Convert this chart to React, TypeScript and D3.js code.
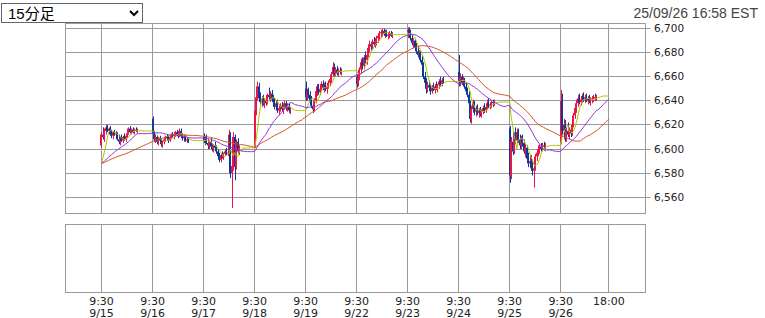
import React from 'react';
import * as d3 from 'd3';

// ---------- data ----------
const dayLabels = ['9/15', '9/16', '9/17', '9/18', '9/19', '9/22', '9/23', '9/24', '9/25', '9/26'];
const openTimeLabel = '9:30';
const endTimeLabel = '18:00';
const yTickValues = [6560, 6580, 6600, 6620, 6640, 6660, 6680, 6700];
const timestamp = '25/09/26 16:58 EST';
const periodOptions = ['15分足'];
const prevClose = 6588;
const maPeriods = [5, 25, 50];

// 15-minute bars, 9:30-16:00: [open, high, low, close]
const sep15 = [
  [6603, 6614, 6601, 6612], [6612, 6618, 6608, 6610], [6610, 6617, 6606, 6615], [6615, 6620, 6612, 6618],
  [6618, 6620, 6614, 6615], [6615, 6618, 6612, 6617], [6617, 6619, 6612, 6613], [6613, 6616, 6609, 6611],
  [6611, 6615, 6608, 6614], [6614, 6616, 6611, 6612], [6612, 6615, 6609, 6613], [6613, 6614, 6607, 6608],
  [6608, 6612, 6604, 6606], [6606, 6610, 6603, 6609], [6609, 6612, 6606, 6607], [6607, 6611, 6605, 6610],
  [6610, 6613, 6607, 6608], [6608, 6612, 6606, 6611], [6611, 6614, 6609, 6613], [6613, 6618, 6612, 6617],
  [6617, 6619, 6613, 6614], [6614, 6617, 6612, 6616], [6616, 6618, 6613, 6614], [6614, 6617, 6612, 6616],
  [6616, 6618, 6614, 6615], [6615, 6617, 6613, 6615],
];
const sep16 = [
  [6625, 6627, 6612, 6613], [6613, 6615, 6606, 6608], [6608, 6612, 6605, 6610], [6610, 6611, 6604, 6606],
  [6606, 6610, 6603, 6609], [6609, 6611, 6605, 6607], [6607, 6609, 6602, 6604], [6604, 6607, 6601, 6606],
  [6606, 6609, 6604, 6608], [6608, 6611, 6606, 6610], [6610, 6612, 6607, 6609], [6609, 6611, 6605, 6607],
  [6607, 6611, 6606, 6610], [6610, 6613, 6608, 6612], [6612, 6614, 6609, 6611], [6611, 6613, 6608, 6612],
  [6612, 6615, 6610, 6614], [6614, 6616, 6611, 6612], [6612, 6614, 6609, 6611], [6611, 6617, 6610, 6615],
  [6615, 6617, 6610, 6611], [6611, 6613, 6607, 6609], [6609, 6612, 6606, 6610], [6610, 6612, 6606, 6607],
  [6607, 6610, 6605, 6608], [6608, 6610, 6605, 6607],
];
const sep17 = [
  [6610, 6613, 6605, 6607], [6607, 6611, 6603, 6609], [6609, 6612, 6604, 6605], [6605, 6608, 6600, 6603],
  [6603, 6607, 6600, 6606], [6606, 6609, 6601, 6602], [6602, 6605, 6598, 6600], [6600, 6604, 6597, 6603],
  [6603, 6606, 6599, 6601], [6601, 6603, 6596, 6598], [6598, 6600, 6592, 6594], [6594, 6597, 6589, 6591],
  [6591, 6596, 6589, 6595], [6595, 6598, 6592, 6593], [6593, 6597, 6591, 6596], [6596, 6600, 6594, 6598],
  [6598, 6601, 6595, 6597], [6597, 6600, 6594, 6597], [6597, 6616, 6594, 6612], [6612, 6614, 6576, 6580],
  [6580, 6590, 6551, 6586], [6586, 6614, 6582, 6610], [6610, 6612, 6574, 6585], [6585, 6608, 6583, 6606],
  [6606, 6609, 6596, 6598], [6598, 6603, 6595, 6601],
];
const sep18 = [
  [6603, 6634, 6601, 6632], [6632, 6645, 6628, 6643], [6643, 6656, 6640, 6652], [6652, 6655, 6640, 6642],
  [6642, 6647, 6637, 6639], [6639, 6644, 6635, 6641], [6641, 6645, 6636, 6637], [6637, 6642, 6634, 6640],
  [6640, 6644, 6636, 6638], [6638, 6646, 6637, 6645], [6645, 6651, 6641, 6643], [6643, 6648, 6639, 6646],
  [6646, 6649, 6640, 6641], [6641, 6645, 6637, 6639], [6639, 6642, 6633, 6635], [6635, 6640, 6632, 6638],
  [6638, 6641, 6630, 6632], [6632, 6637, 6628, 6634], [6634, 6638, 6631, 6636], [6636, 6639, 6631, 6633],
  [6633, 6637, 6629, 6635], [6635, 6640, 6633, 6638], [6638, 6640, 6632, 6634], [6634, 6638, 6631, 6636],
  [6636, 6638, 6630, 6632], [6632, 6635, 6629, 6632],
];
const sep19 = [
  [6650, 6656, 6640, 6643], [6643, 6650, 6640, 6648], [6648, 6651, 6642, 6645], [6645, 6648, 6637, 6640],
  [6640, 6644, 6634, 6636], [6636, 6640, 6630, 6633], [6633, 6642, 6631, 6640], [6640, 6650, 6638, 6648],
  [6648, 6654, 6644, 6652], [6652, 6654, 6645, 6647], [6647, 6652, 6645, 6650], [6650, 6656, 6648, 6654],
  [6654, 6657, 6649, 6651], [6651, 6655, 6647, 6653], [6653, 6656, 6648, 6650], [6650, 6654, 6646, 6652],
  [6652, 6657, 6650, 6655], [6655, 6660, 6652, 6658], [6658, 6664, 6655, 6662], [6662, 6672, 6660, 6668],
  [6668, 6671, 6660, 6663], [6663, 6668, 6660, 6666], [6666, 6669, 6661, 6663], [6663, 6667, 6660, 6665],
  [6665, 6668, 6662, 6664], [6664, 6667, 6661, 6665],
];
const sep22 = [
  [6660, 6662, 6651, 6654], [6654, 6662, 6652, 6660], [6660, 6668, 6657, 6666], [6666, 6675, 6663, 6672],
  [6672, 6676, 6666, 6669], [6669, 6678, 6667, 6676], [6676, 6681, 6671, 6674], [6674, 6680, 6670, 6678],
  [6678, 6686, 6676, 6684], [6684, 6690, 6680, 6687], [6687, 6689, 6682, 6685], [6685, 6691, 6683, 6689],
  [6689, 6693, 6685, 6687], [6687, 6692, 6684, 6690], [6690, 6694, 6686, 6692], [6692, 6696, 6688, 6694],
  [6694, 6698, 6690, 6696], [6696, 6699, 6692, 6697], [6697, 6700, 6693, 6698], [6698, 6700, 6694, 6696],
  [6696, 6699, 6692, 6697], [6697, 6699, 6693, 6694], [6694, 6697, 6691, 6695], [6695, 6698, 6692, 6696],
  [6696, 6698, 6693, 6694], [6694, 6697, 6692, 6695],
];
const sep23 = [
  [6697, 6701, 6692, 6699], [6699, 6701, 6694, 6696], [6696, 6699, 6690, 6692], [6692, 6695, 6686, 6688],
  [6688, 6692, 6684, 6690], [6690, 6691, 6682, 6684], [6684, 6688, 6679, 6681], [6681, 6685, 6676, 6678],
  [6678, 6682, 6674, 6680], [6680, 6681, 6672, 6674], [6674, 6677, 6668, 6670], [6670, 6672, 6658, 6660],
  [6660, 6664, 6652, 6655], [6655, 6659, 6646, 6650], [6650, 6656, 6647, 6653], [6653, 6657, 6648, 6651],
  [6651, 6654, 6645, 6648], [6648, 6653, 6646, 6651], [6651, 6655, 6648, 6649], [6649, 6654, 6646, 6652],
  [6652, 6656, 6649, 6650], [6650, 6654, 6647, 6653], [6653, 6658, 6650, 6656], [6656, 6660, 6652, 6654],
  [6654, 6659, 6652, 6657], [6657, 6660, 6654, 6656],
];
const sep24 = [
  [6664, 6678, 6652, 6657], [6657, 6663, 6652, 6660], [6660, 6662, 6653, 6655], [6655, 6660, 6652, 6657],
  [6657, 6659, 6650, 6652], [6652, 6655, 6646, 6648], [6648, 6651, 6643, 6645], [6645, 6648, 6636, 6638],
  [6638, 6640, 6622, 6625], [6625, 6636, 6621, 6633], [6633, 6641, 6630, 6638], [6638, 6640, 6628, 6631],
  [6631, 6636, 6627, 6634], [6634, 6637, 6628, 6630], [6630, 6634, 6626, 6632], [6632, 6635, 6627, 6629],
  [6629, 6633, 6626, 6631], [6631, 6636, 6629, 6634], [6634, 6638, 6630, 6632], [6632, 6637, 6630, 6635],
  [6635, 6641, 6633, 6638], [6638, 6642, 6634, 6636], [6636, 6639, 6633, 6637], [6637, 6640, 6634, 6639],
  [6639, 6641, 6635, 6638], [6638, 6641, 6636, 6639],
];
const sep25 = [
  [6617, 6619, 6572, 6578], [6578, 6610, 6575, 6606], [6606, 6615, 6595, 6598], [6598, 6614, 6596, 6612],
  [6612, 6618, 6604, 6607], [6607, 6617, 6604, 6614], [6614, 6617, 6605, 6608], [6608, 6612, 6600, 6603],
  [6603, 6611, 6600, 6609], [6609, 6612, 6602, 6605], [6605, 6608, 6596, 6598], [6598, 6604, 6593, 6601],
  [6601, 6603, 6590, 6592], [6592, 6597, 6585, 6588], [6588, 6594, 6584, 6590], [6590, 6595, 6582, 6585],
  [6585, 6590, 6578, 6582], [6582, 6586, 6568, 6584], [6584, 6596, 6582, 6594], [6594, 6600, 6590, 6597],
  [6597, 6603, 6594, 6599], [6599, 6604, 6596, 6602], [6602, 6605, 6598, 6600], [6600, 6605, 6598, 6603],
  [6603, 6606, 6600, 6602], [6602, 6605, 6600, 6603],
];
const sep26 = [
  [6606, 6649, 6604, 6640], [6640, 6646, 6612, 6615], [6615, 6625, 6608, 6620], [6620, 6624, 6606, 6610],
  [6610, 6618, 6606, 6615], [6615, 6622, 6610, 6612], [6612, 6618, 6608, 6616], [6616, 6620, 6610, 6613],
  [6613, 6622, 6611, 6620], [6620, 6630, 6618, 6628], [6628, 6636, 6625, 6634], [6634, 6641, 6630, 6638],
  [6638, 6645, 6635, 6642], [6642, 6646, 6637, 6639], [6639, 6643, 6636, 6641], [6641, 6646, 6638, 6644],
  [6644, 6647, 6639, 6641], [6641, 6645, 6638, 6643], [6643, 6646, 6639, 6640], [6640, 6644, 6637, 6642],
  [6642, 6645, 6638, 6640], [6640, 6643, 6636, 6641], [6641, 6644, 6638, 6642], [6642, 6645, 6639, 6643],
  [6643, 6646, 6640, 6642], [6642, 6645, 6640, 6644],
];
const days = [sep15, sep16, sep17, sep18, sep19, sep22, sep23, sep24, sep25, sep26];

// ---------- layout ----------
const W = 765, H = 318;
const PL = 65, PR = 644.5, MT = 23, MB = 213, ST = 224, SB = 292;
const SLOTS_PER_DAY = 36; // 9:30 .. next 9:30, 15-minute slots
const END_SLOT = 9 * SLOTS_PER_DAY + 34; // 18:00 on last day

const RED = '#ec1448';
const BLUE = '#0b3a9c';
const MA_COLORS = ['#a9c700', '#9030d8', '#d4521e'];
const GRID = '#9a9a9a';

export default function App() {
  const x = d3.scaleLinear().domain([-25.75, 383.1]).range([PL, PR]);
  const y = d3.scaleLinear().domain([6546.9, 6704.6]).range([MB, MT]);

  // bars placed on slots, with flat after-hours slots for the moving averages
  const bars: { slot: number; o: number; h: number; l: number; c: number }[] = [];
  const slotCloses: number[] = [];
  days.forEach((day, d) => {
    day.forEach((b, i) => {
      bars.push({ slot: d * SLOTS_PER_DAY + i, o: b[0], h: b[1], l: b[2], c: b[3] });
      slotCloses.push(b[3]);
    });
    const last = day[day.length - 1][3];
    const extra = d < days.length - 1 ? SLOTS_PER_DAY - day.length : END_SLOT - (d * SLOTS_PER_DAY + day.length);
    for (let k = 0; k < extra; k++) slotCloses.push(last);
  });

  const maSeries = maPeriods.map((n) => {
    const pts: [number, number][] = [[0, prevClose]];
    for (let s = 0; s < slotCloses.length; s++) {
      let sum = 0;
      for (let k = s - n + 1; k <= s; k++) sum += k < 0 ? prevClose : slotCloses[k];
      pts.push([s + 1, sum / n]);
    }
    return pts;
  });
  const line = d3.line<[number, number]>().x((p) => x(p[0])).y((p) => y(p[1]));

  const xTicks = dayLabels.map((lab, i) => ({ slot: i * SLOTS_PER_DAY, top: openTimeLabel, bottom: lab }));
  xTicks.push({ slot: END_SLOT, top: endTimeLabel, bottom: '' });

  const px = (v: number) => Math.floor(v) + 0.5;

  return (
    <div style={{ position: 'absolute', left: 0, top: 0, width: W, height: H, background: '#fff' }}>
      <svg width={W} height={H} style={{ position: 'absolute', left: 0, top: 0 }}>
        <rect x={0} y={0} width={W} height={H} fill="#fff" />
        <text x={758} y={17.5} textAnchor="end" fontFamily="'Liberation Sans', Arial, sans-serif" fontSize={14} fill="#444">
          {timestamp}
        </text>
        {/* main panel grid */}
        {yTickValues.map((v) => (
          <g key={v}>
            <line x1={PL} x2={PR + 6} y1={px(y(v))} y2={px(y(v))} stroke={GRID} strokeWidth={1} />
            <text x={654} y={px(y(v))} dy="0.36em" fontFamily="'DejaVu Sans', Verdana, sans-serif" fontSize={10.5} fill="#222">
              {d3.format(',')(v)}
            </text>
          </g>
        ))}
        {xTicks.map((t) => (
          <g key={t.slot}>
            <line x1={px(x(t.slot))} x2={px(x(t.slot))} y1={MT} y2={MB} stroke={GRID} strokeWidth={1} />
            <line x1={px(x(t.slot))} x2={px(x(t.slot))} y1={ST} y2={SB} stroke={GRID} strokeWidth={1} />
            <text x={x(t.slot)} y={305} textAnchor="middle" fontFamily="'DejaVu Sans', Verdana, sans-serif" fontSize={11} fill="#222">
              {t.top}
            </text>
            <text x={x(t.slot)} y={316.5} textAnchor="middle" fontFamily="'DejaVu Sans', Verdana, sans-serif" fontSize={11} fill="#222">
              {t.bottom}
            </text>
          </g>
        ))}
        <rect x={px(PL)} y={px(MT)} width={Math.round(PR - PL)} height={Math.round(MB - MT)} fill="none" stroke={GRID} />
        <rect x={px(PL)} y={px(ST)} width={Math.round(PR - PL)} height={Math.round(SB - ST)} fill="none" stroke={GRID} />

        {/* candles */}
        {bars.map((b, i) => {
          const cx = Math.round(x(b.slot));
          const up = b.c >= b.o;
          const col = up ? RED : BLUE;
          const top = y(Math.max(b.o, b.c));
          const bot = y(Math.min(b.o, b.c));
          return (
            <g key={i}>
              <rect x={cx} y={y(b.h)} width={1} height={Math.max(1, y(b.l) - y(b.h))} fill={col} />
              <rect x={cx - 1} y={top} width={2} height={Math.max(1, bot - top)} fill={col} />
            </g>
          );
        })}
        {/* moving averages */}
        {maSeries.map((pts, i) => (
          <path key={i} d={line(pts) || ''} fill="none" stroke={MA_COLORS[i]} strokeWidth={1} />
        ))}
      </svg>
      <select
        defaultValue={periodOptions[0]}
        style={{
          position: 'absolute', left: 1, top: 3, width: 142, height: 20, fontSize: 15,
          fontFamily: "'Liberation Sans', Arial, 'Noto Sans CJK JP', sans-serif", color: '#000',
          border: '1px solid #666', borderRadius: 0, background: '#fff', padding: '0 2px', margin: 0,
        }}
      >
        {periodOptions.map((o) => (
          <option key={o} value={o}>{o}</option>
        ))}
      </select>
    </div>
  );
}
